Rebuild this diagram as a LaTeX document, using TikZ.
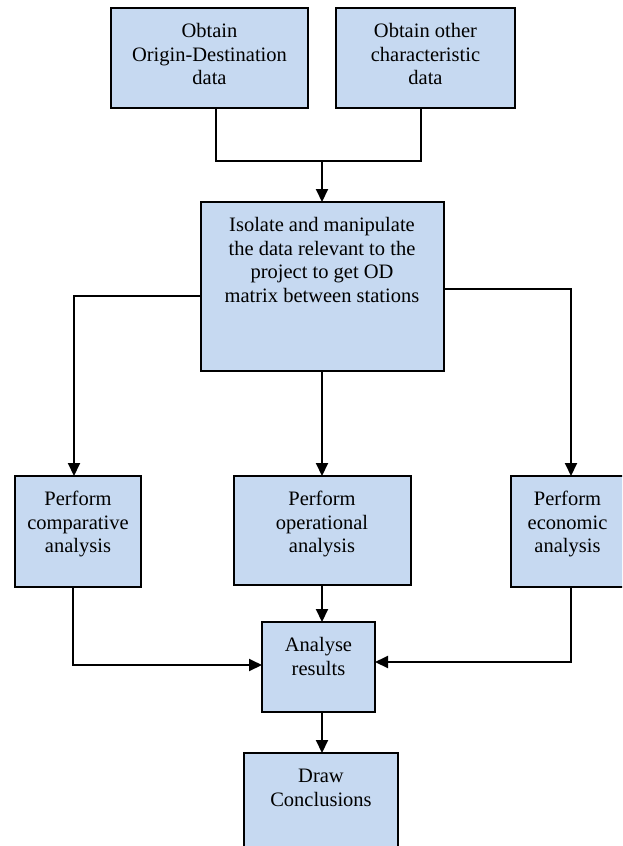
\documentclass[tikz,border=0pt]{standalone}
\usepackage{fontspec}
\setmainfont{Liberation Serif}
\newfontfamily\boxfont{Liberation Serif}
\usetikzlibrary{arrows.meta}
\definecolor{boxblue}{RGB}{198,217,241}
\newcommand{\steptext}[3]{\parbox[c][#2][t]{#1}{\centering\rule{0pt}{29.5pt}#3}}

\begin{document}
\begin{tikzpicture}[x=1pt, y=-1pt,
        stepbox/.style={draw, line width=2pt, fill=boxblue, inner sep=0pt, outer sep=0pt,
                        font=\boxfont\fontsize{20.5}{23.5}\selectfont},
        link/.style={line width=2pt},
        flow/.style={line width=2pt, -{Triangle[length=13pt,width=12pt]}}]
        \clip (0,0) rectangle (622,846);

        \node[stepbox] (od)       at (209.5,58)  {\steptext{197pt}{100pt}{Obtain\\Origin-Destination\\data}};
        \node[stepbox] (other)    at (425.5,58)  {\steptext{179pt}{100pt}{Obtain other\\characteristic\\data}};
        \node[stepbox] (isolate)  at (322,286.5) {\steptext{243pt}{169pt}{Isolate and manipulate\\the data relevant to the\\project to get OD\\matrix between stations}};
        \node[stepbox] (compare)  at (78,531.5)  {\steptext{126pt}{111pt}{Perform\\comparative\\analysis}};
        \node[stepbox] (operate)  at (322,530.5) {\steptext{177pt}{109pt}{Perform\\operational\\analysis}};
        \node[stepbox] (economic) at (567.5,531.5) {\steptext{113pt}{111pt}{Perform\\economic\\analysis}};
        \node[stepbox] (results)  at (318.5,667) {\steptext{113pt}{90pt}{Analyse\\results}};
        \node[stepbox] (conclude) at (321,806.5)  {\steptext{154pt}{107pt}{Draw\\Conclusions}};

        % the two inputs meet above the middle box
        \coordinate (join) at (322,161);
        \draw[link] ([xshift=6.5pt]od.south) |- (join);
        \draw[link] ([xshift=-4.5pt]other.south) |- (join);
        \draw[flow] (join) -- (join |- isolate.north);

        \draw[flow] ([yshift=-9.5pt]isolate.west) -| ([xshift=-4pt]compare.north);
        \draw[flow] ([yshift=-2.5pt]isolate.east) -| ([xshift=3.5pt]economic.north);
        \draw[flow] (isolate.south) -- (operate.north);

        \draw[flow] ([xshift=-5pt]compare.south) |- ([yshift=2pt]results.west);
        \draw[flow] ([xshift=3.5pt]economic.south) |- ([yshift=5pt]results.east);
        \draw[flow] (operate.south) -- ([xshift=3.5pt]results.north);
        \draw[flow] ([xshift=3.5pt]results.south) -- ([xshift=1pt]conclude.north);
    \end{tikzpicture}
\end{document}
